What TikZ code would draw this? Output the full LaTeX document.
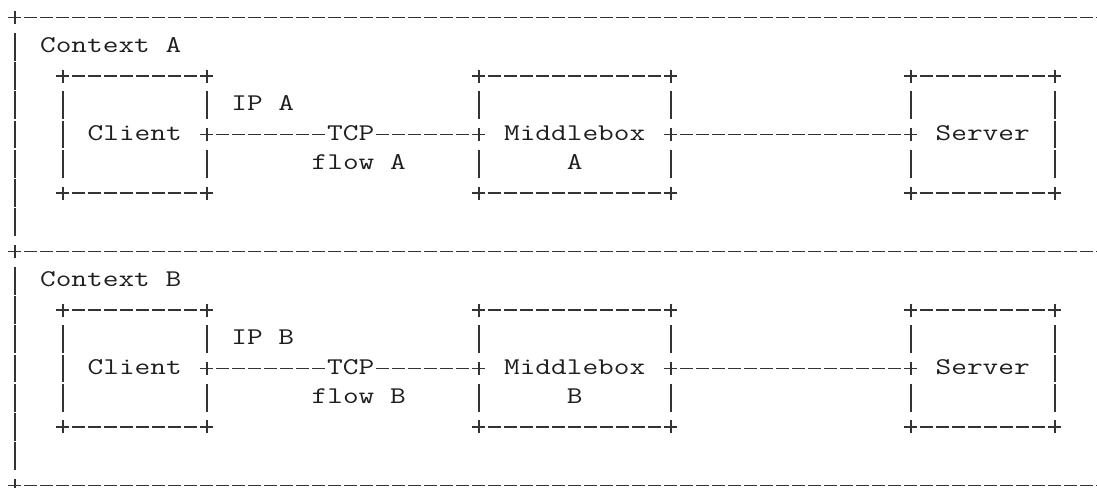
\documentclass[tikz,border=0pt]{standalone}
\usepackage{graphicx}
\newcommand{\asc}[1]{\scalebox{1.2698}[1]{\fontsize{24}{24}\selectfont\ttfamily #1}}
\newcommand{\colx}[1]{14.7+16*(#1)}
\newcommand{\rowy}[1]{17.6+29.24*(#1)}
\begin{document}
\begin{tikzpicture}[x=1pt,y=-1pt,
  ink/.style={draw=black!80, line width=1.8pt},
  hd/.style={ink, dash pattern=on 13pt off 3pt},
  hdb/.style={ink, dash pattern=on 13pt off 3pt, dash phase=14.5pt},
  vd/.style={ink, dash pattern=on 27.8pt off 1.44pt},
  vc/.style={ink, dash pattern=on 27.8pt off 30.68pt},
  boxnode/.style={rectangle, inner sep=0pt, outer sep=0pt, minimum height=116.96pt},
  txt/.style={inner sep=0pt, outer sep=0pt, anchor=base, text=black!88},
]
\fill[white] (0,0) rectangle (1097,487);
\useasboundingbox (0,0) rectangle (1097,487);

\foreach \sh/\lab in {0/A,8/B}{
  % context frame
  \coordinate (top\lab) at ({\colx{0}},{\rowy{\sh}});
  \coordinate (topend\lab) at (1110,{\rowy{\sh}});
  \draw[hd] ([xshift=-6.5pt]top\lab) -- (topend\lab);
  \draw[ink] ([yshift=6.5pt]top\lab) -- ([yshift=-6.5pt]top\lab);
  \coordinate (side\lab) at ({\colx{0}},{\rowy{\sh+1}-13.9});
  \coordinate (sideend\lab) at ({\colx{0}},{\rowy{\sh+7}+13.9});
  \draw[vd] (side\lab) -- (sideend\lab);
  \node[txt] (ctx\lab) at ({\colx{6}},{\rowy{\sh+1}+5.6}) {\asc{Context \lab}};

  % boxes
  \node[boxnode, minimum width=144pt] (cli\lab) at ({\colx{7.5}},{\rowy{\sh+4}}) {};
  \node[boxnode, minimum width=192pt] (mb\lab)  at ({\colx{35}},{\rowy{\sh+4}}) {};
  \node[boxnode, minimum width=144pt] (srv\lab) at ({\colx{60.5}},{\rowy{\sh+4}}) {};

  \foreach \bx in {cli\lab, mb\lab, srv\lab}{
    \draw[hd] ([xshift=-6.5pt]\bx.north west) -- ([xshift=6.5pt]\bx.north east);
    \draw[hd] ([xshift=-6.5pt]\bx.south west) -- ([xshift=6.5pt]\bx.south east);
    \foreach \cn in {north west, north east, south west, south east}{
      \draw[ink] ([yshift=6.5pt]\bx.\cn) -- ([yshift=-6.5pt]\bx.\cn);
    }
  }
  % full side edges
  \draw[vd] ([yshift=-15.34pt]cli\lab.north west) -- ([yshift=15.34pt]cli\lab.south west);
  \draw[vd] ([yshift=-15.34pt]srv\lab.north east) -- ([yshift=15.34pt]srv\lab.south east);
  % side edges with a connection point
  \draw[vc] ([yshift=-15.34pt]cli\lab.north east) -- ([yshift=15.34pt]cli\lab.south east);
  \draw[vc] ([yshift=-15.34pt]mb\lab.north west) -- ([yshift=15.34pt]mb\lab.south west);
  \draw[vc] ([yshift=-15.34pt]mb\lab.north east) -- ([yshift=15.34pt]mb\lab.south east);
  \draw[vc] ([yshift=-15.34pt]srv\lab.north west) -- ([yshift=15.34pt]srv\lab.south west);
  \foreach \cp in {cli\lab.east, mb\lab.west, mb\lab.east, srv\lab.west}{
    \draw[ink] ([yshift=6.5pt]\cp) -- ([yshift=-6.5pt]\cp);
  }

  % labels
  \node[txt] (clit\lab) at ({\colx{7.5}},{\rowy{\sh+4}+5.6}) {\asc{Client}};
  \node[txt] (mbt\lab)  at ({\colx{35}},{\rowy{\sh+4}+5.6}) {\asc{Middlebox}};
  \node[txt] (mbl\lab)  at ({\colx{35}},{\rowy{\sh+5}+5.6}) {\asc{\lab}};
  \node[txt] (srvt\lab) at ({\colx{60.5}},{\rowy{\sh+4}+5.6}) {\asc{Server}};
  \node[txt] (ip\lab)   at ({\colx{15.5}},{\rowy{\sh+3}+5.6}) {\asc{IP \lab}};
  \node[txt] (flow\lab) at ({\colx{21.5}},{\rowy{\sh+5}+5.6}) {\asc{flow \lab}};
  \node[txt] (tcp\lab)  at ({\colx{21}},{\rowy{\sh+4}+5.6}) {\asc{TCP}};

  % connectors
  \draw[hd] ([xshift=-6.5pt]cli\lab.east) -- (tcp\lab.west |- cli\lab.east);
  \draw[hdb] (tcp\lab.east |- cli\lab.east) -- ([xshift=6.5pt]mb\lab.west);
  \draw[hd] ([xshift=-6.5pt]mb\lab.east) -- ([xshift=6.5pt]srv\lab.west);
}
% bottom edge of the last context
\coordinate (bot) at ({\colx{0}},{\rowy{16}});
\coordinate (botend) at (1110,{\rowy{16}});
\draw[hd] ([xshift=-6.5pt]bot) -- (botend);
\draw[ink] ([yshift=6.5pt]bot) -- ([yshift=-6.5pt]bot);
\end{tikzpicture}
\end{document}
